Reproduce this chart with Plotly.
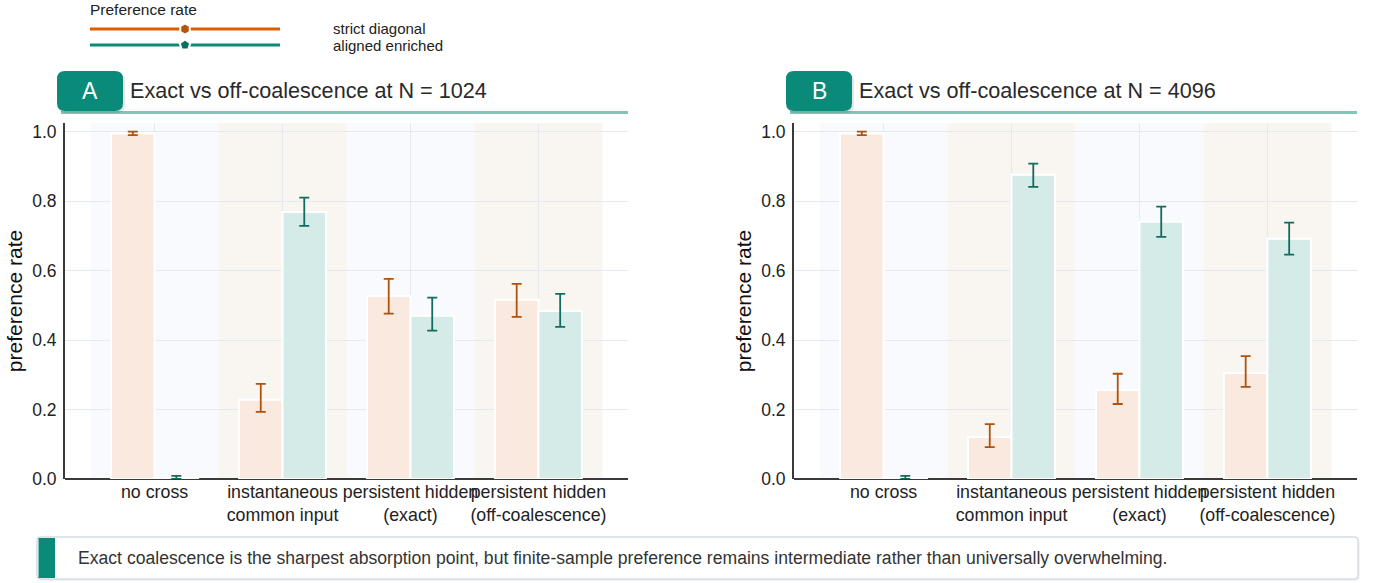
import plotly.graph_objects as go

W, H = 1377, 583

categories = ["no cross", "instantaneous<br>common input", "persistent hidden<br>(exact)",
              "persistent hidden<br>(off-coalescence)"]
series_names = ["strict diagonal", "aligned enriched"]

# Panel A: N = 1024
a_strict = [0.995, 0.228, 0.527, 0.516]
a_strict_hi = [1.000, 0.274, 0.576, 0.562]
a_strict_lo = [0.990, 0.193, 0.476, 0.467]
a_aligned = [0.003, 0.769, 0.470, 0.484]
a_aligned_hi = [0.009, 0.810, 0.522, 0.533]
a_aligned_lo = [0.000, 0.729, 0.427, 0.438]

# Panel B: N = 4096
b_strict = [0.995, 0.121, 0.256, 0.305]
b_strict_hi = [1.000, 0.158, 0.303, 0.354]
b_strict_lo = [0.990, 0.092, 0.216, 0.265]
b_aligned = [0.003, 0.876, 0.741, 0.692]
b_aligned_hi = [0.009, 0.908, 0.784, 0.738]
b_aligned_lo = [0.000, 0.841, 0.697, 0.646]

panel_titles = ["Exact vs off-coalescence at N = 1024", "Exact vs off-coalescence at N = 4096"]
panel_letters = ["A", "B"]
y_ticks = [0.0, 0.2, 0.4, 0.6, 0.8, 1.0]
caption = ("Exact coalescence is the sharpest absorption point, but finite-sample preference "
           "remains intermediate rather than universally overwhelming.")

FONT = "Liberation Sans, Arial, Helvetica, sans-serif"
ORANGE_FILL = "#f9e9de"
TEAL_FILL = "#d5ebe8"
ORANGE_ERR = "#b0520c"
TEAL_ERR = "#136b5f"
ORANGE_LINE = "#d95f02"
TEAL_LINE = "#0d8a7a"
BADGE = "#0a8a79"
UNDERLINE = "#7fc5ba"
BAND_BLUE = "#f8fafd"
BAND_BEIGE = "#f9f6f1"
GRID = "#e6eaf0"


def px(x):
    return x / W


def py(y):
    return 1 - y / H


def rrect(x0, y0, x1, y1, r):
    pts = [
        f"M{px(x0 + r)},{py(y0)}",
        f"L{px(x1 - r)},{py(y0)}",
        f"Q{px(x1)},{py(y0)} {px(x1)},{py(y0 + r)}",
        f"L{px(x1)},{py(y1 - r)}",
        f"Q{px(x1)},{py(y1)} {px(x1 - r)},{py(y1)}",
        f"L{px(x0 + r)},{py(y1)}",
        f"Q{px(x0)},{py(y1)} {px(x0)},{py(y1 - r)}",
        f"L{px(x0)},{py(y0 + r)}",
        f"Q{px(x0)},{py(y0)} {px(x0 + r)},{py(y0)}",
        "Z",
    ]
    return " ".join(pts)


fig = go.Figure()

panels = [
    dict(xa="x", ya="y", strict=(a_strict, a_strict_hi, a_strict_lo),
         aligned=(a_aligned, a_aligned_hi, a_aligned_lo), dom=(65, 628)),
    dict(xa="x2", ya="y2", strict=(b_strict, b_strict_hi, b_strict_lo),
         aligned=(b_aligned, b_aligned_hi, b_aligned_lo), dom=(794, 1357)),
]

xidx = list(range(len(categories)))

for p in panels:
    for name, (vals, hi, lo), fill, err in [
        (series_names[0], p["strict"], ORANGE_FILL, ORANGE_ERR),
        (series_names[1], p["aligned"], TEAL_FILL, TEAL_ERR),
    ]:
        fig.add_trace(go.Bar(
            x=xidx, y=vals, name=name, showlegend=False,
            xaxis=p["xa"], yaxis=p["ya"],
            marker=dict(color=fill, line=dict(color="white", width=2)),
            error_y=dict(type="data", symmetric=False,
                         array=[h - v for h, v in zip(hi, vals)],
                         arrayminus=[v - l for v, l in zip(vals, lo)],
                         color=err, thickness=1.8, width=5),
        ))

# custom legend on a hidden pixel-space axis restricted to the top strip
LEG_W, LEG_H = 320, 60
fig.add_trace(go.Scatter(x=[90, 280], y=[29, 29], mode="lines", xaxis="x3", yaxis="y3",
                         line=dict(color=ORANGE_LINE, width=3), showlegend=False, hoverinfo="skip"))
fig.add_trace(go.Scatter(x=[90, 280], y=[45, 45], mode="lines", xaxis="x3", yaxis="y3",
                         line=dict(color=TEAL_LINE, width=3), showlegend=False, hoverinfo="skip"))
fig.add_trace(go.Scatter(x=[185], y=[29], mode="markers", xaxis="x3", yaxis="y3",
                         marker=dict(symbol="hexagon", size=11, color="#b8530b",
                                     line=dict(color="white", width=2)),
                         showlegend=False, hoverinfo="skip"))
fig.add_trace(go.Scatter(x=[185], y=[45], mode="markers", xaxis="x3", yaxis="y3",
                         marker=dict(symbol="pentagon", size=11, color="#0b6e62",
                                     line=dict(color="white", width=2)),
                         showlegend=False, hoverinfo="skip"))

shapes = []
annotations = []

axis_common_x = dict(
    tickmode="array", tickvals=xidx, ticktext=categories, range=[-0.7, 3.7],
    showgrid=True, gridcolor=GRID, gridwidth=1, zeroline=False, showline=False,
    tickfont=dict(size=17.8, color="#222", family=FONT), ticks="", tickangle=0,
    automargin=False, fixedrange=True,
)
axis_common_y = dict(
    range=[0, 1.025], tickvals=y_ticks, tickformat=".1f", showgrid=True, gridcolor=GRID,
    gridwidth=1, zeroline=True, zerolinecolor="#3a3a3a", zerolinewidth=2,
    showline=True, linecolor="#3a3a3a", linewidth=2, ticks="", ticklabelstandoff=3,
    tickfont=dict(size=17.5, color="#222", family=FONT),
    title=dict(text="preference rate", font=dict(size=21, color="#111", family=FONT), standoff=4),
    domain=[py(479), py(123)], automargin=False, fixedrange=True,
)

layout = dict(
    width=W, height=H, margin=dict(l=0, r=0, t=0, b=0, autoexpand=False),
    paper_bgcolor="white", plot_bgcolor="rgba(0,0,0,0)",
    barmode="group", bargap=0.32, bargroupgap=0.0,
    font=dict(family=FONT, color="#222"),
    xaxis=dict(axis_common_x, domain=[px(65), px(628)], anchor="y"),
    yaxis=dict(axis_common_y, anchor="x"),
    xaxis2=dict(axis_common_x, domain=[px(794), px(1357)], anchor="y2"),
    yaxis2=dict(axis_common_y, anchor="x2"),
    xaxis3=dict(domain=[0, px(LEG_W)], range=[0, LEG_W], visible=False, fixedrange=True,
                anchor="y3", automargin=False),
    yaxis3=dict(domain=[py(LEG_H), 1], range=[LEG_H, 0], visible=False, fixedrange=True,
                anchor="x3", automargin=False),
)

for i, p in enumerate(panels):
    xref = "x" if i == 0 else "x2"
    yref = "y domain" if i == 0 else "y2 domain"
    for c in xidx:
        shapes.append(dict(type="rect", xref=xref, yref=yref, x0=c - 0.5, x1=c + 0.5, y0=0, y1=1,
                           fillcolor=BAND_BLUE if c % 2 == 0 else BAND_BEIGE,
                           line=dict(width=0), layer="below"))
    d0, d1 = p["dom"]
    bx0 = d0 - 8
    shapes.append(dict(type="line", xref="paper", yref="paper", x0=px(bx0 + 4), x1=px(d1),
                       y0=py(112.5), y1=py(112.5), line=dict(color=UNDERLINE, width=3)))
    shapes.append(dict(type="path", xref="paper", yref="paper",
                       path=rrect(bx0 + 1, 73, bx0 + 68, 113, 8),
                       fillcolor="rgba(0,0,0,0.10)", line=dict(width=0)))
    shapes.append(dict(type="path", xref="paper", yref="paper",
                       path=rrect(bx0, 71, bx0 + 66, 111, 8),
                       fillcolor=BADGE, line=dict(width=0)))
    annotations.append(dict(xref="paper", yref="paper", x=px(bx0 + 33), y=py(91),
                            text=panel_letters[i], showarrow=False, xanchor="center", yanchor="middle",
                            font=dict(size=23, color="white", family=FONT)))
    annotations.append(dict(xref="paper", yref="paper", x=px(bx0 + 71), y=py(90),
                            text=panel_titles[i], showarrow=False, xanchor="left", yanchor="middle",
                            font=dict(size=21.6, color="#2a2a2a", family=FONT)))

annotations.append(dict(xref="paper", yref="paper", x=px(88), y=py(10), text="Preference rate",
                        showarrow=False, xanchor="left", yanchor="middle",
                        font=dict(size=15.5, color="#222", family=FONT)))
annotations.append(dict(xref="paper", yref="paper", x=px(331), y=py(29), text=series_names[0],
                        showarrow=False, xanchor="left", yanchor="middle",
                        font=dict(size=15, color="#222", family=FONT)))
annotations.append(dict(xref="paper", yref="paper", x=px(331), y=py(45), text=series_names[1],
                        showarrow=False, xanchor="left", yanchor="middle",
                        font=dict(size=15, color="#222", family=FONT)))

shapes.append(dict(type="path", xref="paper", yref="paper", path=rrect(39, 539, 1360, 581, 4),
                   fillcolor="rgba(0,0,0,0.05)", line=dict(width=0)))
shapes.append(dict(type="path", xref="paper", yref="paper", path=rrect(37, 537, 1358, 579, 4),
                   fillcolor="white", line=dict(color="#d6dce5", width=1.5)))
shapes.append(dict(type="rect", xref="paper", yref="paper", x0=px(38.5), x1=px(55), y0=py(538),
                   y1=py(578), fillcolor=BADGE, line=dict(width=0)))
annotations.append(dict(xref="paper", yref="paper", x=px(76), y=py(558), text=caption,
                        showarrow=False, xanchor="left", yanchor="middle",
                        font=dict(size=17.6, color="#333", family=FONT)))

layout["shapes"] = shapes
layout["annotations"] = annotations
fig.update_layout(**layout)

fig.write_html("out.html")
